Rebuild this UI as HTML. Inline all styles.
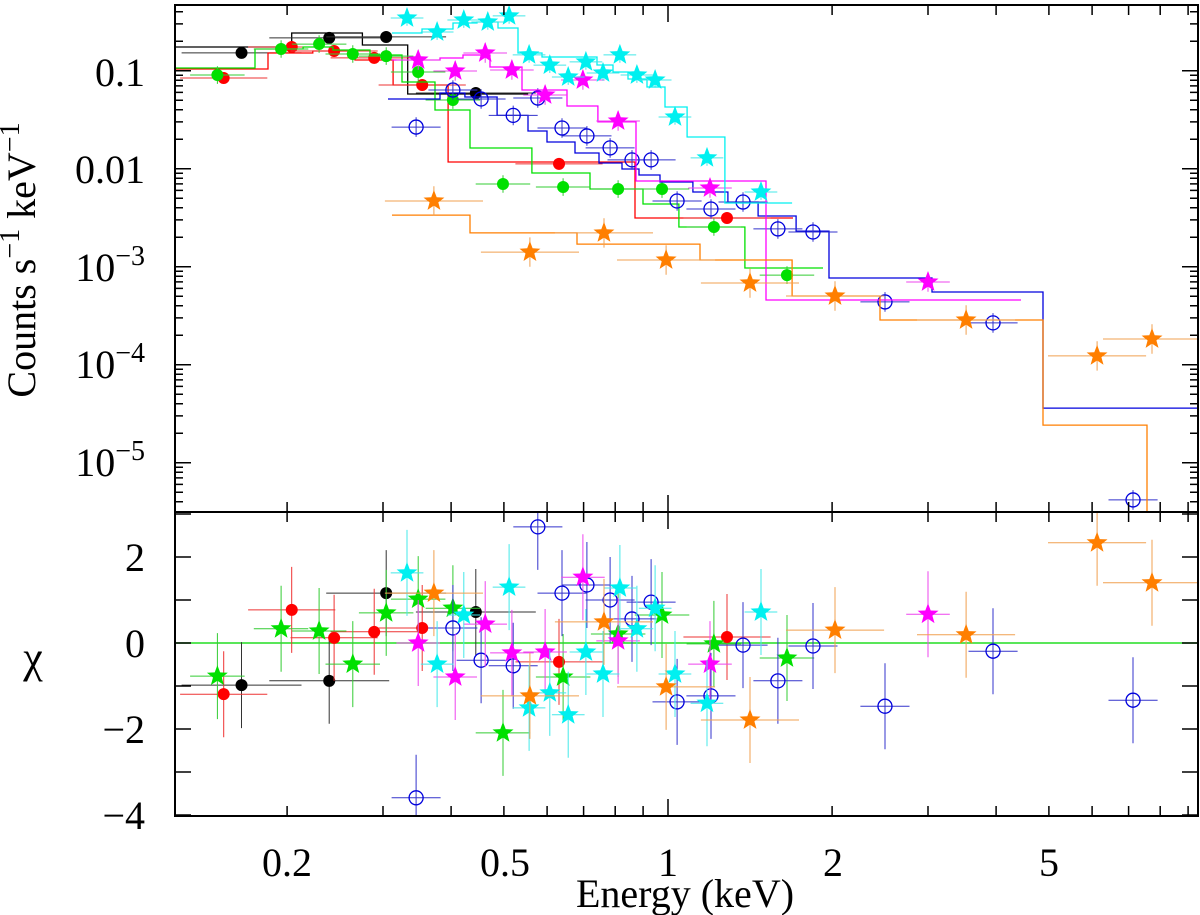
<!DOCTYPE html>
<html><head><meta charset="utf-8"><style>
body{margin:0;background:#fff;}
svg{display:block;font-family:"Liberation Serif","DejaVu Serif",serif;}
</style></head><body>
<svg id="chart" width="1200" height="915" viewBox="0 0 1200 915" xmlns="http://www.w3.org/2000/svg">
<defs>
<clipPath id="clipTop"><rect x="175" y="5" width="1023" height="507"/></clipPath>
<clipPath id="clipBot"><rect x="175" y="512" width="1023" height="304"/></clipPath>
</defs>
<g id="axes"></g>
<g id="top" clip-path="url(#clipTop)"></g>
<g id="bot" clip-path="url(#clipBot)"></g>
<g id="frame"></g>
<g id="labels">
<text x="145" y="86" font-size="40" text-anchor="end">0.1</text>
<text x="145" y="183" font-size="40" text-anchor="end">0.01</text>
<text x="145" y="281" font-size="40" text-anchor="end">10<tspan font-size="28" dy="-16">−3</tspan></text>
<text x="145" y="378" font-size="40" text-anchor="end">10<tspan font-size="28" dy="-16">−4</tspan></text>
<text x="145" y="476" font-size="40" text-anchor="end">10<tspan font-size="28" dy="-16">−5</tspan></text>
<text x="145" y="571" font-size="40" text-anchor="end">2</text>
<text x="145" y="657" font-size="40" text-anchor="end">0</text>
<text x="145" y="743" font-size="40" text-anchor="end">−2</text>
<text x="145" y="829" font-size="40" text-anchor="end">−4</text>
<text x="287" y="876" font-size="40" text-anchor="middle">0.2</text>
<text x="505" y="876" font-size="40" text-anchor="middle">0.5</text>
<text x="668" y="876" font-size="40" text-anchor="middle">1</text>
<text x="833" y="876" font-size="40" text-anchor="middle">2</text>
<text x="1049" y="876" font-size="40" text-anchor="middle">5</text>
<text x="685" y="907" font-size="40" text-anchor="middle">Energy (keV)</text>
<text transform="translate(35,260) rotate(-90)" font-size="40" text-anchor="middle">Counts s<tspan font-size="28" dy="-16">−1</tspan><tspan dy="16"> keV</tspan><tspan font-size="28" dy="-16">−1</tspan></text>
<text x="33" y="672" font-size="44" text-anchor="middle">χ</text>
</g>
</svg>
<script>
// ---- data (energies keV, counts s^-1 keV^-1, chi) ----
const blackE=[0.165,0.239,0.304,0.444];
const blackC=[0.152,0.216,0.221,0.0592];
const blackChi=[-0.98,-0.88,1.16,0.72];
const blackEdges=[0.1245,0.204,0.275,0.333,0.554];
const blackModel=[0.1745,0.2425,0.183,0.0578];

const redE=[0.153,0.204,0.244,0.289,0.354,0.631,1.283];
const redC=[0.0842,0.1745,0.159,0.135,0.0714,0.0112,0.00314];
const redChi=[-1.19,0.77,0.12,0.26,0.35,-0.44,0.14];
const redEdges=[0.1245,0.1845,0.223,0.2665,0.313,0.395,0.870,1.696];
const redModel=[0.104,0.1516,0.159,0.1286,0.0714,0.0117,0.00314];

const greenE=[0.149,0.195,0.229,0.264,0.304,0.348,0.403,0.498,0.642,0.810,0.975,1.214,1.653];
const greenC=[0.0903,0.1665,0.187,0.148,0.141,0.097,0.0502,0.00698,0.0065,0.0062,0.0062,0.00254,0.00082];
const greenChi=[-0.77,0.33,0.28,-0.49,0.70,1.02,0.81,-2.09,-0.79,0.21,0.65,-0.02,-0.35];
const greenEdges=[0.1245,0.1747,0.214,0.2428,0.2839,0.325,0.3737,0.4332,0.5628,0.7194,0.8997,1.047,1.384,1.925];
const greenModel=[0.1066,0.1665,0.1745,0.1626,0.1445,0.0767,0.0397,0.01626,0.00904,0.0062,0.00436,0.00254,0.00097];

const cyanE=[0.332,0.377,0.422,0.467,0.511,0.556,0.607,0.656,0.707,0.760,0.816,0.877,0.947,1.030,1.179,1.481];
const cyanC=[0.345,0.248,0.329,0.314,0.362,0.145,0.114,0.0862,0.123,0.0947,0.145,0.0903,0.0804,0.0337,0.0129,0.00578];
const cyanResE=[0.332,0.377,0.422,0.511,0.556,0.607,0.656,0.707,0.760,0.816,0.877,0.947,1.030,1.179,1.481];
const cyanChi=[1.63,-0.49,0.65,1.30,-1.51,-1.16,-1.67,-0.21,-0.72,1.28,0.33,0.81,-0.72,-1.40,0.72];
const cyanEdges=[0.3116,0.3537,0.4032,0.4462,0.4876,0.5306,0.5872,0.7409,0.7926,0.8445,0.9152,0.9874,1.084,1.272,1.689];
const cyanModel=[0.2425,0.2663,0.3067,0.314,0.2727,0.1516,0.138,0.1143,0.097,0.0823,0.0682,0.0426,0.02106,0.00447];

const magentaE=[0.348,0.407,0.462,0.517,0.595,0.698,0.810,1.194,3.0];
const magentaC=[0.1286,0.0993,0.1516,0.1016,0.0565,0.0804,0.0307,0.00635,0.000698];
const magentaChi=[0.0,-0.79,0.44,-0.23,-0.21,1.53,0.05,-0.49,0.67];
const magentaEdges=[0.3116,0.3817,0.4205,0.4714,0.5396,0.6527,0.7438,0.8736,1.513,4.443];
const magentaModel=[0.1286,0.1348,0.1446,0.1091,0.0635,0.0436,0.030,0.00749,0.000457];

const blueE=[0.345,0.403,0.454,0.520,0.577,0.639,0.710,0.783,0.859,0.931,1.039,1.199,1.373,1.591,1.845,2.501,3.948,7.133];
const blueC=[0.0266,0.0635,0.0514,0.035,0.0526,0.026,0.0216,0.0163,0.0123,0.0123,0.00468,0.00388,0.00457,0.00243,0.00226,0.000437,0.000267,0.00000417];
const blueChi=[-3.6,0.35,-0.40,-0.53,2.70,1.16,1.35,1.0,0.56,0.95,-1.37,-1.23,-0.05,-0.88,-0.07,-1.47,-0.19,-1.33];
const blueEdges=[0.3063,0.3817,0.424,0.4857,0.5536,0.5998,0.6751,0.7471,0.8234,0.8846,0.9667,1.111,1.288,1.463,1.718,1.974,3.051,4.877,9.39];
const blueModel=[0.0514,0.0592,0.0539,0.035,0.02425,0.01873,0.01446,0.01143,0.00993,0.00862,0.00731,0.00578,0.00457,0.00329,0.00231,0.000767,0.000552,0.0000361];

const orangeE=[0.372,0.558,0.763,0.992,1.414,2.025,3.523,6.127,7.729];
const orangeC=[0.00468,0.00141,0.00221,0.00117,0.000682,0.000502,0.000286,0.000123,0.000183];
const orangeChi=[1.16,-1.23,0.49,-1.02,-1.79,0.30,0.19,2.33,1.40];
const orangeEdges=[0.3116,0.4332,0.6808,1.145,1.689,2.449,4.877,7.567,7.99];
const orangeModel=[0.00336,0.00221,0.0017,0.00117,0.000502,0.000286,0.0000242,0.0000026];

const xTicksMinor=[0.2,0.3,0.4,0.5,0.6,0.7,0.8,0.9,2,3,4,5,6,7,8,9];
const xTicksMajor=[1];
const yDecades=[-6,-5,-4,-3,-2,-1];
const chiTicks=[3,2,1,0,-1,-2,-3,-4];

// ---- scales ----
const L=175,R=1198,T=5,MID=512,B=816;
function X(e){return 668+545*Math.log10(e);}
function Y(c){return 70.7-98*(Math.log10(c)+1);}
function YC(v){return 643-43*v;}

const NS="http://www.w3.org/2000/svg";
function mk(tag,attrs,parent){const el=document.createElementNS(NS,tag);for(const k in attrs)el.setAttribute(k,attrs[k]);parent.appendChild(el);return el;}
const gTop=document.getElementById('top'),gBot=document.getElementById('bot'),gAx=document.getElementById('axes'),gFr=document.getElementById('frame');

function starPath(x,y,r){let d="";for(let i=0;i<10;i++){const rr=i%2?r*0.42:r;const a=-Math.PI/2+i*Math.PI/5;d+=(i?"L":"M")+(x+rr*Math.cos(a)).toFixed(1)+" "+(y+rr*Math.sin(a)).toFixed(1);}return d+"Z";}

function marker(g,kind,x,y,col,name){
  let el;
  if(kind==='dot'){el=mk('circle',{cx:x,cy:y,r:6,fill:col},g);}
  else if(kind==='open'){el=mk('circle',{cx:x,cy:y,r:7,fill:'none',stroke:col,'stroke-width':1.3},g);}
  else{el=mk('path',{d:starPath(x,y,11),fill:col},g);}
  
  
}

const series=[
 {n:'black',col:'#000000',ecol:'#333333',E:blackE,C:blackC,RE:blackE,chi:blackChi,ed:blackEdges,m:blackModel,top:'dot',bot:'dot',xd:0.11,yd:0.05},
 {n:'red',col:'#ff0000',ecol:'#ee3333',E:redE,C:redC,RE:redE,chi:redChi,ed:redEdges,m:redModel,top:'dot',bot:'dot',xd:0.08,yd:0.06},
 {n:'green',col:'#00e000',ecol:'#33cc33',E:greenE,C:greenC,RE:greenE,chi:greenChi,ed:greenEdges,m:greenModel,top:'dot',bot:'star',xd:0.05,yd:0.09},
 {n:'blue',col:'#0000dd',ecol:'#3333cc',E:blueE,C:blueC,RE:blueE,chi:blueChi,ed:blueEdges,m:blueModel,top:'open',bot:'open',xd:0.045,yd:0.1},
 {n:'magenta',col:'#ff00ff',ecol:'#ee44ee',E:magentaE,C:magentaC,RE:magentaE,chi:magentaChi,ed:magentaEdges,m:magentaModel,top:'star',bot:'star',xd:0.04,yd:0.1},
 {n:'cyan',col:'#00f0f0',ecol:'#44e8e8',E:cyanE,C:cyanC,RE:cyanResE,chi:cyanChi,ed:cyanEdges,m:cyanModel,top:'star',bot:'star',xd:0.03,yd:0.08},
 {n:'orange',col:'#ff7f00',ecol:'#f0a050',E:orangeE,C:orangeC,RE:orangeE,chi:orangeChi,ed:orangeEdges,m:orangeModel,top:'star',bot:'star',xd:0.09,yd:0.15}
];

// zero line
const zl=mk('line',{x1:L,x2:R,y1:YC(0),y2:YC(0),stroke:'#22dd22','stroke-width':1.5},gBot);



series.forEach(s=>{
  // model step
  let d="";
  for(let i=0;i<s.m.length;i++){
    const x0=X(s.ed[i]),x1=X(s.ed[i+1]),y=Y(s.m[i]);
    d+=(i?"L":"M")+x0.toFixed(1)+" "+y.toFixed(1)+"L"+x1.toFixed(1)+" "+y.toFixed(1);
  }
  const p=mk('path',{d:d,fill:'none',stroke:s.col,'stroke-width':1.3},gTop);
  
  
  // top points
  for(let i=0;i<s.E.length;i++){
    const e=s.E[i],c=s.C[i];
    const lg=Math.log10(c);
    const eb=mk('path',{d:`M${X(e*Math.pow(10,-s.xd)).toFixed(1)} ${Y(c).toFixed(1)}H${X(e*Math.pow(10,s.xd)).toFixed(1)}M${X(e).toFixed(1)} ${Y(Math.pow(10,lg-s.yd)).toFixed(1)}V${Y(Math.pow(10,lg+s.yd)).toFixed(1)}`,stroke:s.ecol,'stroke-width':1,fill:'none'},gTop);
    
    
    marker(gTop,s.top,X(e),Y(c),s.col,s.n+'-data-point');
  }
  // residuals
  for(let i=0;i<s.RE.length;i++){
    const e=s.RE[i],v=s.chi[i];
    const eb=mk('path',{d:`M${X(e*Math.pow(10,-s.xd)).toFixed(1)} ${YC(v).toFixed(1)}H${X(e*Math.pow(10,s.xd)).toFixed(1)}M${X(e).toFixed(1)} ${YC(v-1).toFixed(1)}V${YC(v+1).toFixed(1)}`,stroke:s.ecol,'stroke-width':1,fill:'none'},gBot);
    
    
    marker(gBot,s.bot,X(e),YC(v),s.col,s.n+'-residual-point');
  }
});

// frame
[[L,T,R-L,MID-T],[L,MID,R-L,B-MID]].forEach((r,i)=>{
  const f=mk('rect',{x:r[0],y:r[1],width:r[2],height:r[3],fill:'none',stroke:'#000','stroke-width':2},gFr);
  
  
});
// x ticks on all four horizontal edges
let td="";
[T,MID,B].forEach(y0=>{
  const dirs=y0===T?[1]:(y0===B?[-1]:[-1,1]);
  dirs.forEach(dir=>{
    xTicksMinor.forEach(v=>{td+=`M${X(v).toFixed(1)} ${y0}v${dir*10}`;});
    xTicksMajor.forEach(v=>{td+=`M${X(v).toFixed(1)} ${y0}v${dir*17}`;});
  });
});
// y ticks top panel (log)
yDecades.forEach(k=>{
  for(let m=1;m<10;m++){
    const y=Y(m*Math.pow(10,k));
    if(y<T||y>MID)continue;
    const len=m===1?16:8;
    td+=`M${L} ${y.toFixed(1)}h${len}M${R} ${y.toFixed(1)}h${-len}`;
  }
});
chiTicks.forEach(v=>{const y=YC(v);if(y<MID||y>B)return;td+=`M${L} ${y.toFixed(1)}h16M${R} ${y.toFixed(1)}h-16`;});
const tk=mk('path',{d:td,stroke:'#000','stroke-width':1.5,fill:'none'},gFr);


</script>
</body></html>
